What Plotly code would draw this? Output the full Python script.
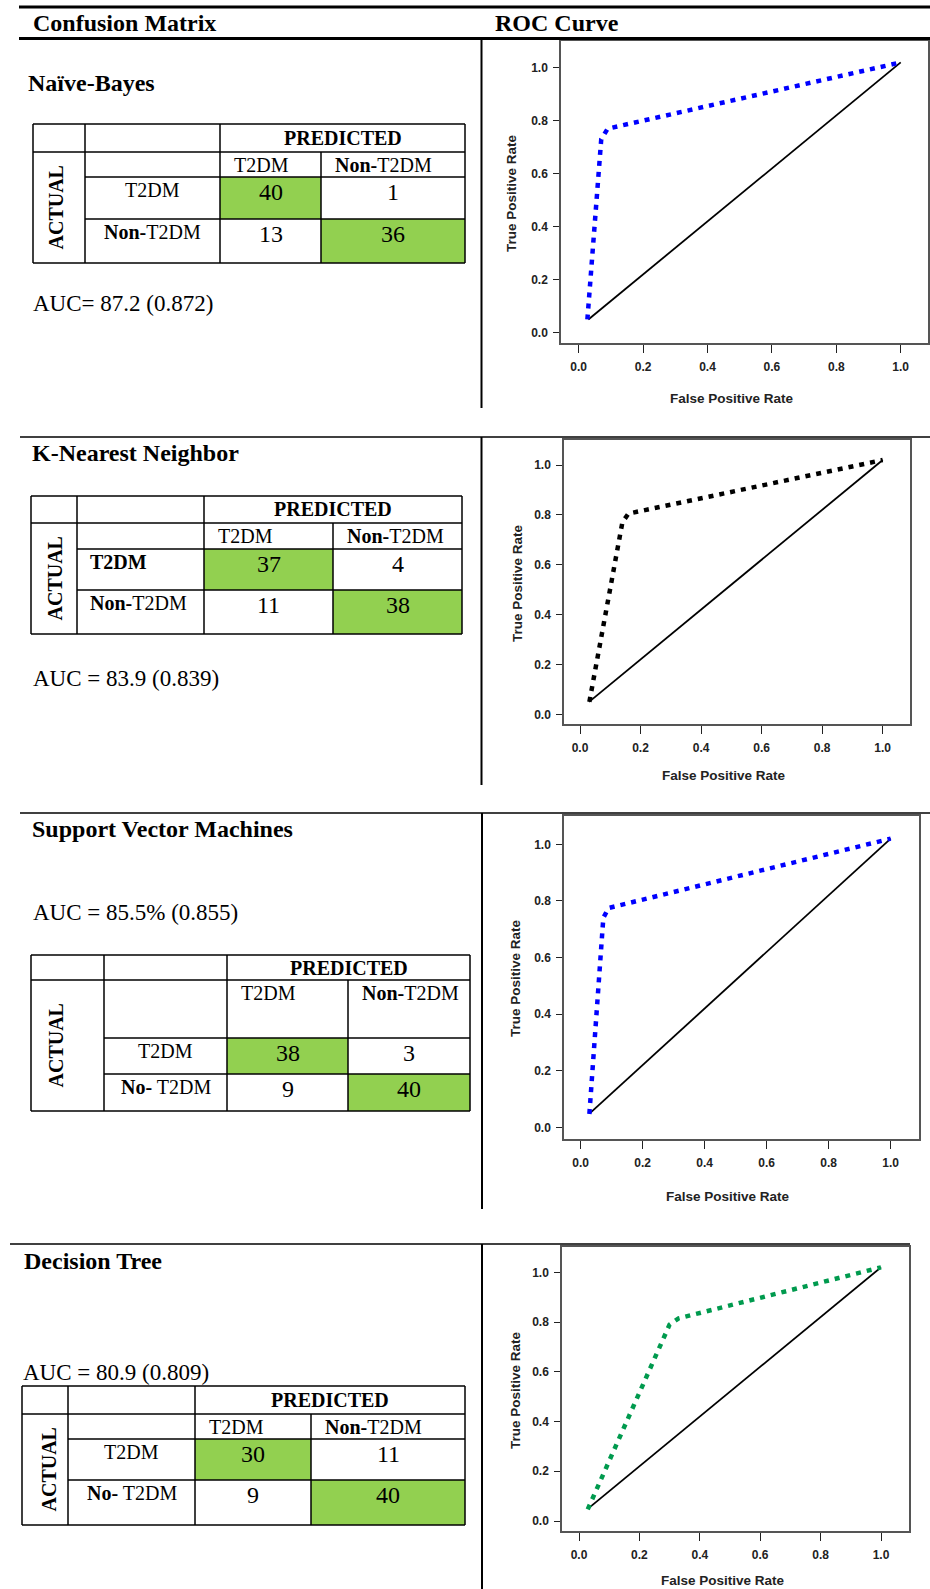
import plotly.graph_objects as go

W, H = 930, 1589

# ---------------- data ----------------
header_left = "Confusion Matrix"
header_right = "ROC Curve"
model_names = ["Naïve-Bayes", "K-Nearest Neighbor", "Support Vector Machines", "Decision Tree"]
auc_texts = ["AUC= 87.2 (0.872)", "AUC = 83.9 (0.839)", "AUC = 85.5% (0.855)", "AUC = 80.9 (0.809)"]

cm_nb = [[40, 1], [13, 36]]
cm_knn = [[37, 4], [11, 38]]
cm_svm = [[38, 3], [9, 40]]
cm_dt = [[30, 11], [9, 40]]

pred_title = "PREDICTED"
actual_title = "ACTUAL"
pred_labels = ["T2DM", "<b>Non-</b>T2DM"]
actual_labels_nb = ["T2DM", "<b>Non-</b>T2DM"]
actual_labels_knn = ["<b>T2DM</b>", "<b>Non-</b>T2DM"]
actual_labels_svm = ["T2DM", "<b>No-</b> T2DM"]
actual_labels_dt = ["T2DM", "<b>No-</b> T2DM"]

fpr_nb = [0.027, 0.07, 0.09, 1.0]
tpr_nb = [0.05, 0.73, 0.77, 1.02]
fpr_knn = [0.031, 0.14, 0.16, 1.0]
tpr_knn = [0.05, 0.77, 0.805, 1.02]
fpr_svm = [0.028, 0.073, 0.09, 1.0]
tpr_svm = [0.047, 0.74, 0.775, 1.02]
fpr_dt = [0.029, 0.30, 0.33, 1.0]
tpr_dt = [0.047, 0.79, 0.815, 1.02]
diag_fpr = [0.03, 1.0]
diag_tpr = [0.05, 1.02]

tick_vals = [0.0, 0.2, 0.4, 0.6, 0.8, 1.0]
tick_text = ["0.0", "0.2", "0.4", "0.6", "0.8", "1.0"]
x_title = "False Positive Rate"
y_title = "True Positive Rate"

# ---------------- layout geometry (pixels) ----------------
def px(x):
    return x / W

def py(y):
    return 1 - y / H

SERIF = "Liberation Serif"
SANS = "Liberation Sans"
GREEN = "#92D050"

shapes = []
annotations = []

def hline(x0, x1, y, w):
    shapes.append(dict(type="line", xref="paper", yref="paper", x0=px(x0), x1=px(x1),
                       y0=py(y), y1=py(y), line=dict(color="black", width=w), layer="above"))

def vline(x, y0, y1, w):
    shapes.append(dict(type="line", xref="paper", yref="paper", x0=px(x), x1=px(x),
                       y0=py(y0), y1=py(y1), line=dict(color="black", width=w), layer="above"))

def rect(x0, x1, y0, y1, fill):
    shapes.append(dict(type="rect", xref="paper", yref="paper", x0=px(x0), x1=px(x1),
                       y0=py(y1), y1=py(y0), fillcolor=fill, line=dict(width=0), layer="below"))

def text(x, y, s, size, family=SERIF, xanchor="left", bold=False, angle=0):
    annotations.append(dict(xref="paper", yref="paper", x=px(x), y=py(y),
                            text=(f"<b>{s}</b>" if bold else s), showarrow=False,
                            xanchor=xanchor, yanchor="middle", textangle=angle,
                            font=dict(family=family, size=size, color="black")))

# page rules
hline(19, 930, 7, 3)
hline(19, 930, 38.5, 3)
hline(20, 930, 437, 1.3)
hline(20, 930, 813, 1.3)
hline(10, 910, 1244, 1.3)
vline(481.5, 38, 408, 2)
vline(481.5, 437, 785, 2)
vline(482, 813, 1209, 2)
vline(482, 1244, 1589, 2)

text(31, 23, header_left, 24, bold=True)
text(493, 23, header_right, 24, bold=True)

title_pos = [(26, 83), (30, 453), (30, 829), (22, 1261)]
auc_pos = [(31, 304), (31, 678), (31, 912), (21, 1372)]

tables = [
    dict(cols=[33, 85, 220, 321, 465], rows=[124, 152, 177, 219, 263], ax=55, align="center"),
    dict(cols=[31, 77, 204, 333, 462], rows=[496, 523, 549, 590, 634], ax=55, align="left"),
    dict(cols=[31, 104, 227, 348, 470], rows=[955, 980, 1038, 1074, 1111], ax=55, align="center"),
    dict(cols=[22, 68, 195, 311, 465], rows=[1386, 1414, 1439, 1480, 1525], ax=48, align="center"),
]
cms = [cm_nb, cm_knn, cm_svm, cm_dt]
actual_labels = [actual_labels_nb, actual_labels_knn, actual_labels_svm, actual_labels_dt]

for i, t in enumerate(tables):
    c, r = t["cols"], t["rows"]
    cm = cms[i]
    # highlighted diagonal (correct predictions)
    for k in range(2):
        rect(c[2 + k], c[3 + k], r[2 + k], r[3 + k], GREEN)
    bw = 1.5
    # borders
    hline(c[0], c[4], r[0], bw)
    hline(c[0], c[4], r[1], bw)
    hline(c[1], c[4], r[2], bw)
    hline(c[1], c[4], r[3], bw)
    hline(c[0], c[4], r[4], bw)
    vline(c[0], r[0], r[4], bw)
    vline(c[1], r[0], r[4], bw)
    vline(c[2], r[0], r[4], bw)
    vline(c[3], r[1], r[4], bw)
    vline(c[4], r[0], r[4], bw)
    # header texts
    text((c[2] + c[4]) / 2, (r[0] + r[1]) / 2, pred_title, 20, xanchor="center", bold=True)
    for k in range(2):
        text(c[2 + k] + 12, r[1] + 13, pred_labels[k], 20)
    text(t["ax"], (r[1] + r[4]) / 2, actual_title, 20, xanchor="center", bold=True, angle=-90)
    for k in range(2):
        if t["align"] == "center":
            text((c[1] + c[2]) / 2, r[2 + k] + 13, actual_labels[i][k], 20, xanchor="center")
        else:
            text(c[1] + 11, r[2 + k] + 13, actual_labels[i][k], 20)
        for j in range(2):
            text((c[2 + j] + c[3 + j]) / 2, r[2 + k] + 15, str(cm[k][j]), 24, xanchor="center")
    text(title_pos[i][0], title_pos[i][1], model_names[i], 24, bold=True)
    text(auc_pos[i][0], auc_pos[i][1], auc_texts[i], 23)

# ---------------- ROC plots ----------------
boxes = [(561, 928, 41, 343), (564, 910, 440, 724), (564, 919, 816, 1139), (562, 909, 1247, 1531)]
xt = [(578.7, 900.7), (580, 882.7), (580.7, 890.7), (579, 881)]
yt = [(332.7, 67.7), (714.3, 465), (1127.3, 844.3), (1521, 1272.3)]
xtitle_pos = [(732, 398), (724, 775), (728, 1196), (723, 1580)]
ytitle_pos = [(511, 193), (517, 583), (515, 978), (515, 1390)]

rocs = [(fpr_nb, tpr_nb, "#0000FF"), (fpr_knn, tpr_knn, "#000000"),
        (fpr_svm, tpr_svm, "#0000FF"), (fpr_dt, tpr_dt, "#009A4E")]

fig = go.Figure()
layout_axes = {}
for i in range(4):
    n = "" if i == 0 else str(i + 1)
    xa, ya = "x" + n, "y" + n
    L, R, T, B = boxes[i]
    x0p, x1p = xt[i]
    y0p, y1p = yt[i]
    sx = x1p - x0p
    sy = y0p - y1p
    xr = [(L - x0p) / sx, (R - x0p) / sx]
    yr = [(y0p - B) / sy, (y0p - T) / sy]
    f, tp, col = rocs[i]
    fig.add_trace(go.Scatter(x=diag_fpr, y=diag_tpr, mode="lines", xaxis=xa, yaxis=ya,
                             line=dict(color="black", width=1.8), showlegend=False, hoverinfo="skip"))
    fig.add_trace(go.Scatter(x=f, y=tp, mode="lines", xaxis=xa, yaxis=ya,
                             line=dict(color=col, width=4.5, dash="5px,6px"), showlegend=False))
    common = dict(showline=True, mirror=True, linecolor="#555555", linewidth=1.5,
                  showgrid=False, zeroline=False, ticks="outside", tickcolor="#222222",
                  tickwidth=1.2, tickvals=tick_vals, ticktext=tick_text,
                  tickfont=dict(family=SANS, size=12, color="#222222", weight="bold"))
    layout_axes["xaxis" + n] = dict(common, domain=[px(L), px(R)], range=xr, anchor=ya,
                                    ticklen=8, ticklabelstandoff=4)
    layout_axes["yaxis" + n] = dict(common, domain=[py(B), py(T)], range=yr, anchor=xa,
                                    ticklen=6, ticklabelstandoff=3)
    annotations.append(dict(xref="paper", yref="paper", x=px(xtitle_pos[i][0]), y=py(xtitle_pos[i][1]),
                            text=f"<b>{x_title}</b>", showarrow=False, xanchor="center", yanchor="middle",
                            font=dict(family=SANS, size=13.5, color="#222222")))
    annotations.append(dict(xref="paper", yref="paper", x=px(ytitle_pos[i][0]), y=py(ytitle_pos[i][1]),
                            text=f"<b>{y_title}</b>", showarrow=False, xanchor="center", yanchor="middle",
                            textangle=-90, font=dict(family=SANS, size=13.5, color="#222222")))

fig.update_layout(width=W, height=H, margin=dict(l=0, r=0, t=0, b=0),
                  paper_bgcolor="white", plot_bgcolor="white", hovermode=False,
                  shapes=shapes, annotations=annotations, **layout_axes)
fig.write_html("out.html", config={"displayModeBar": False},
               post_script="document.body.style.margin='0px';document.body.style.overflow='hidden';")
